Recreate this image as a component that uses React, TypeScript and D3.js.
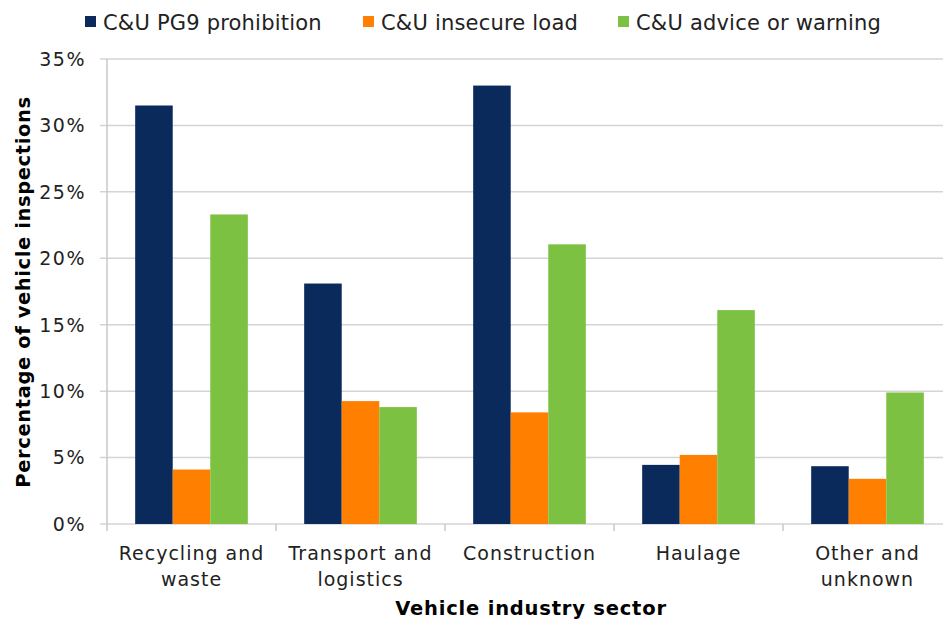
import React from "react";
import * as d3 from "d3";

const categories = [["Recycling and", "waste"], ["Transport and", "logistics"], ["Construction"], ["Haulage"], ["Other and", "unknown"]];
const seriesNames = ["C&U PG9 prohibition", "C&U insecure load", "C&U advice or warning"];
const prohibition = [31.5, 18.1, 33.0, 4.45, 4.35];
const insecureLoad = [4.1, 9.25, 8.4, 5.2, 3.4];
const adviceWarning = [23.3, 8.8, 21.05, 16.1, 9.9];
const yTicks = [0, 5, 10, 15, 20, 25, 30, 35];
const colors = ["#0a2a5c", "#ff7f00", "#7dc142"];

const W = 943, H = 621;
const left = 107, right = 952, top = 59, bottom = 524;
const font = "'DejaVu Sans', Verdana, sans-serif";

export default function App() {
  const series = [prohibition, insecureLoad, adviceWarning];
  const x = d3.scaleBand<number>().domain(categories.map((_, i) => i)).range([left, right]).paddingInner(0).paddingOuter(0);
  const inner = d3.scaleBand<number>().domain([0, 1, 2]).range([0, x.bandwidth()]).paddingOuter(0.75).paddingInner(0);
  const y = d3.scaleLinear().domain([0, 35]).range([bottom, top]);
  const legendX = [85, 363, 618];
  return (
    <svg width={W} height={H} style={{ position: "absolute", left: 0, top: 0, background: "#fff" }} fontFamily={font}>
      {yTicks.map(t => (
        <g key={t}>
          <line x1={left - 7} x2={right} y1={y(t)} y2={y(t)} stroke="#d4d4d4" strokeWidth={1.5} />
          <text x={86} y={y(t)} dy="0.36em" textAnchor="end" fontSize={19} letterSpacing={1.5} fill="#222">{t}%</text>
        </g>
      ))}
      <line x1={left} x2={left} y1={top} y2={bottom} stroke="#c8c8c8" strokeWidth={1.5} />
      {categories.map((_, i) => (
        <line key={i} x1={x(i)!} x2={x(i)!} y1={bottom} y2={bottom + 7} stroke="#c8c8c8" strokeWidth={1.5} />
      ))}
      {series.map((vals, s) =>
        vals.map((v, i) => (
          <rect key={`${s}-${i}`} x={x(i)! + inner(s)!} y={y(v)} width={inner.bandwidth()} height={bottom - y(v)} fill={colors[s]} />
        ))
      )}
      {categories.map((lines, i) => (
        <text key={i} x={x(i)! + x.bandwidth() / 2} y={560} textAnchor="middle" fontSize={19} letterSpacing={1} fill="#222">
          {lines.map((l, j) => (
            <tspan key={j} x={x(i)! + x.bandwidth() / 2} dy={j === 0 ? 0 : 26}>{l}</tspan>
          ))}
        </text>
      ))}
      <text x={531} y={615} textAnchor="middle" fontSize={19.5} letterSpacing={0.8} fontWeight="bold" fill="#000">Vehicle industry sector</text>
      <text transform={`translate(30,${292}) rotate(-90)`} textAnchor="middle" fontSize={19.5} letterSpacing={0.6} fontWeight="bold" fill="#000">Percentage of vehicle inspections</text>
      {seriesNames.map((n, s) => (
        <g key={n}>
          <rect x={legendX[s]} y={16} width={11} height={11} fill={colors[s]} />
          <text x={legendX[s] + 18} y={22} dy="0.36em" fontSize={21} letterSpacing={0.2} fill="#222">{n}</text>
        </g>
      ))}
    </svg>
  );
}
